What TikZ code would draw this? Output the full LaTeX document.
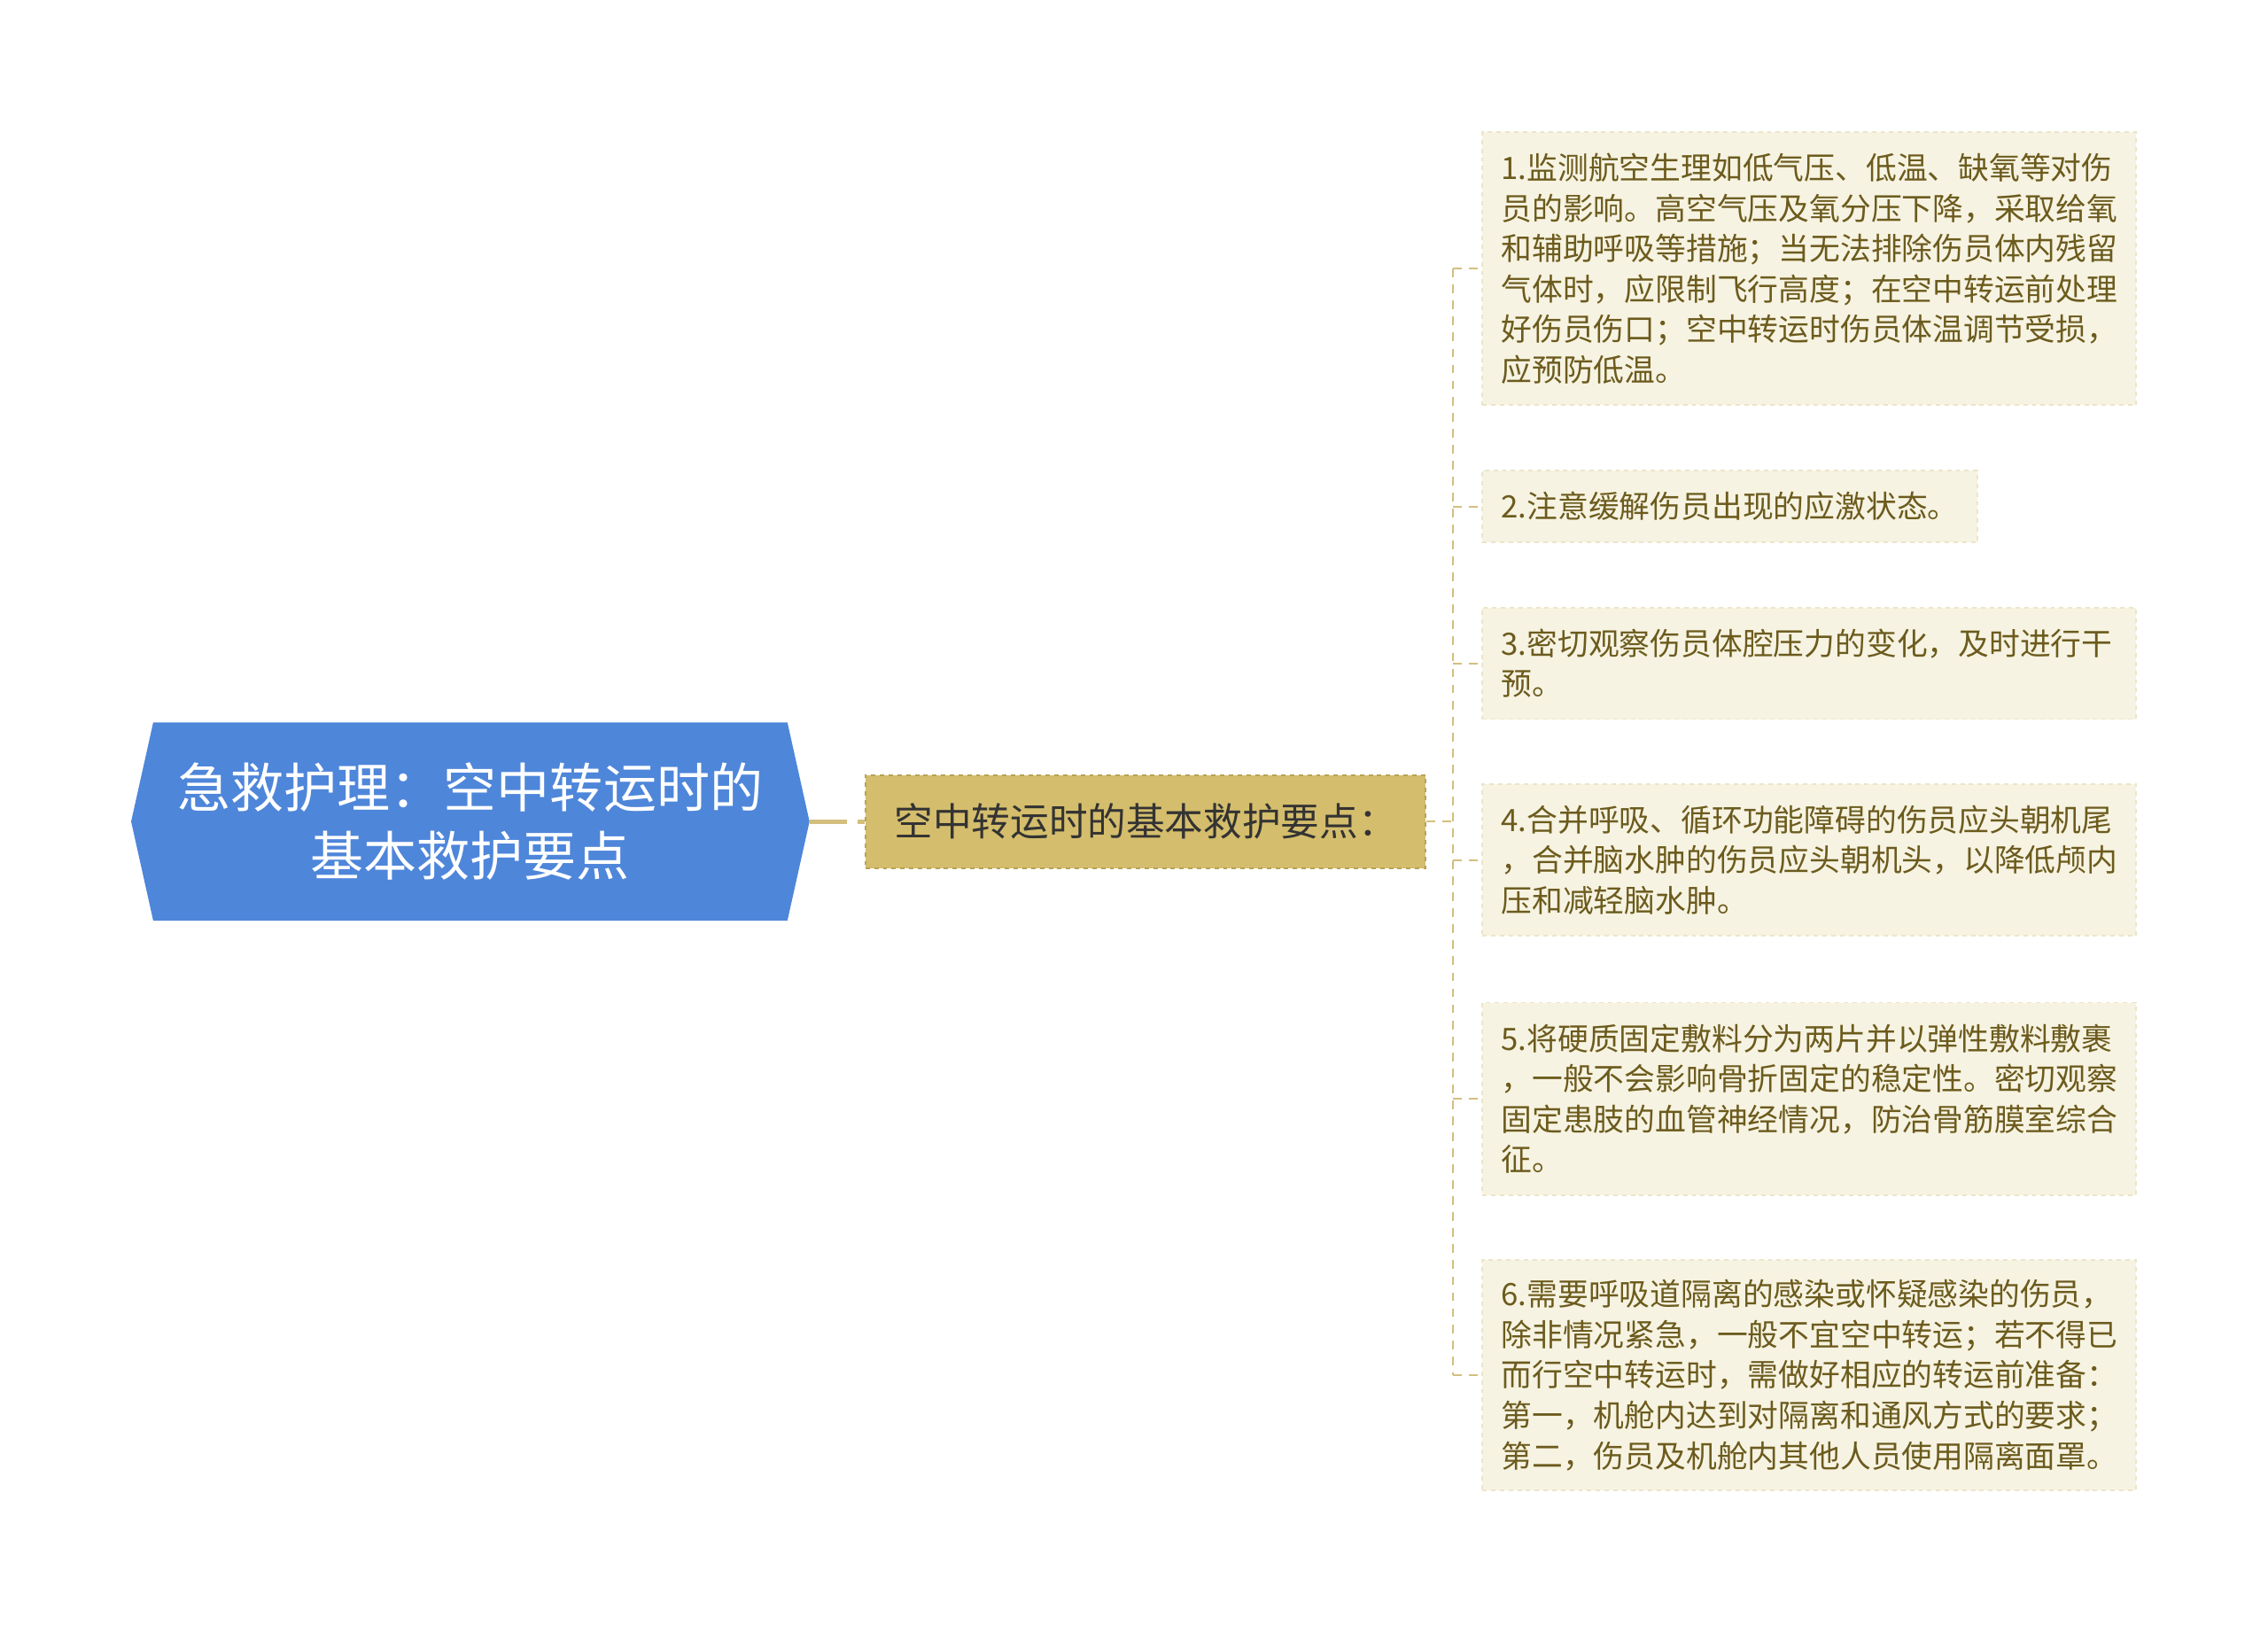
\documentclass[tikz,border=0pt]{standalone}
\usepackage{fontspec}
\setmainfont{Noto Sans CJK SC}
\usepackage{tikz}
\usetikzlibrary{backgrounds,calc}
\definecolor{rootblue}{HTML}{4E86DA}
\definecolor{midtan}{HTML}{D4BD6C}
\definecolor{midedge}{HTML}{B9A255}
\definecolor{leaffill}{HTML}{F6F3E2}
\definecolor{leafedge}{HTML}{ECE5C9}
\definecolor{leaftext}{HTML}{6C5B1D}
\definecolor{linktan}{HTML}{D3BF7E}

\begin{document}
\begin{tikzpicture}[x=1pt,y=-1pt,
  leaf/.style={draw=leafedge,fill=leaffill,dashed,line width=1.2pt,anchor=west,align=left,
    inner xsep=13pt,inner ysep=0pt,text=leaftext,font=\fontsize{21.2}{27.8}\selectfont},
  wideleaf/.style={leaf,text width=423.6pt},
  link/.style={draw=linktan,line width=1.3pt,dash pattern=on 6pt off 5pt}]
\useasboundingbox (0,0) rectangle (1560,1117);

\node[minimum width=435.8pt,minimum height=136pt,align=center,text=white,
  font=\fontsize{36.6}{46.8}\selectfont] (root) at (323.5,565) {急救护理：空中转运时的\\基本救护要点};
\begin{scope}[on background layer]
\fill[rootblue] (root.north west) -- (root.north east) -- ([xshift=15.2pt]root.east)
  -- (root.south east) -- (root.south west) -- ([xshift=-15.2pt]root.west) -- cycle;
\end{scope}

\node[draw=midedge,fill=midtan,dashed,line width=1.2pt,minimum width=385.5pt,minimum height=64pt,
  text=black!80,font=\fontsize{26.6}{32}\selectfont] (mid) at (788,565) {空中转运时的基本救护要点：};

\node[wideleaf,minimum height=187.6pt] (l1) at (1019,184.8) {1.监测航空生理如低气压、低温、缺氧等对伤\\员的影响。高空气压及氧分压下降，采取给氧\\和辅助呼吸等措施；当无法排除伤员体内残留\\气体时，应限制飞行高度；在空中转运前处理\\好伤员伤口；空中转运时伤员体温调节受损，\\应预防低温。};
\node[leaf,minimum height=49.7pt] (l2) at (1019,348.3) {2.注意缓解伤员出现的应激状态。};
\node[wideleaf,minimum height=76.6pt] (l3) at (1019,456.2) {3.密切观察伤员体腔压力的变化，及时进行干\\预。};
\node[wideleaf,minimum height=104.5pt] (l4) at (1019,591.5) {4.合并呼吸、循环功能障碍的伤员应头朝机尾\\，合并脑水肿的伤员应头朝机头，以降低颅内\\压和减轻脑水肿。};
\node[wideleaf,minimum height=132.4pt] (l5) at (1019,755.7) {5.将硬质固定敷料分为两片并以弹性敷料敷裹\\，一般不会影响骨折固定的稳定性。密切观察\\固定患肢的血管神经情况，防治骨筋膜室综合\\征。};
\node[wideleaf,minimum height=158.2pt] (l6) at (1019,945.7) {6.需要呼吸道隔离的感染或怀疑感染的伤员，\\除非情况紧急，一般不宜空中转运；若不得已\\而行空中转运时，需做好相应的转运前准备：\\第一，机舱内达到对隔离和通风方式的要求；\\第二，伤员及机舱内其他人员使用隔离面罩。};

\coordinate (fork) at (999.4,565);
\draw[link,line width=3pt,dash pattern=on 26pt off 7pt] ([xshift=15.2pt]root.east) -- (mid.west);
\draw[link] (mid.east) -- (fork);
\draw[link] (fork |- l1.west) -- (fork |- l6.west);
\foreach \n in {1,...,6}
  \draw[link] (fork |- l\n.west) -- (l\n.west);
\end{tikzpicture}
\end{document}
